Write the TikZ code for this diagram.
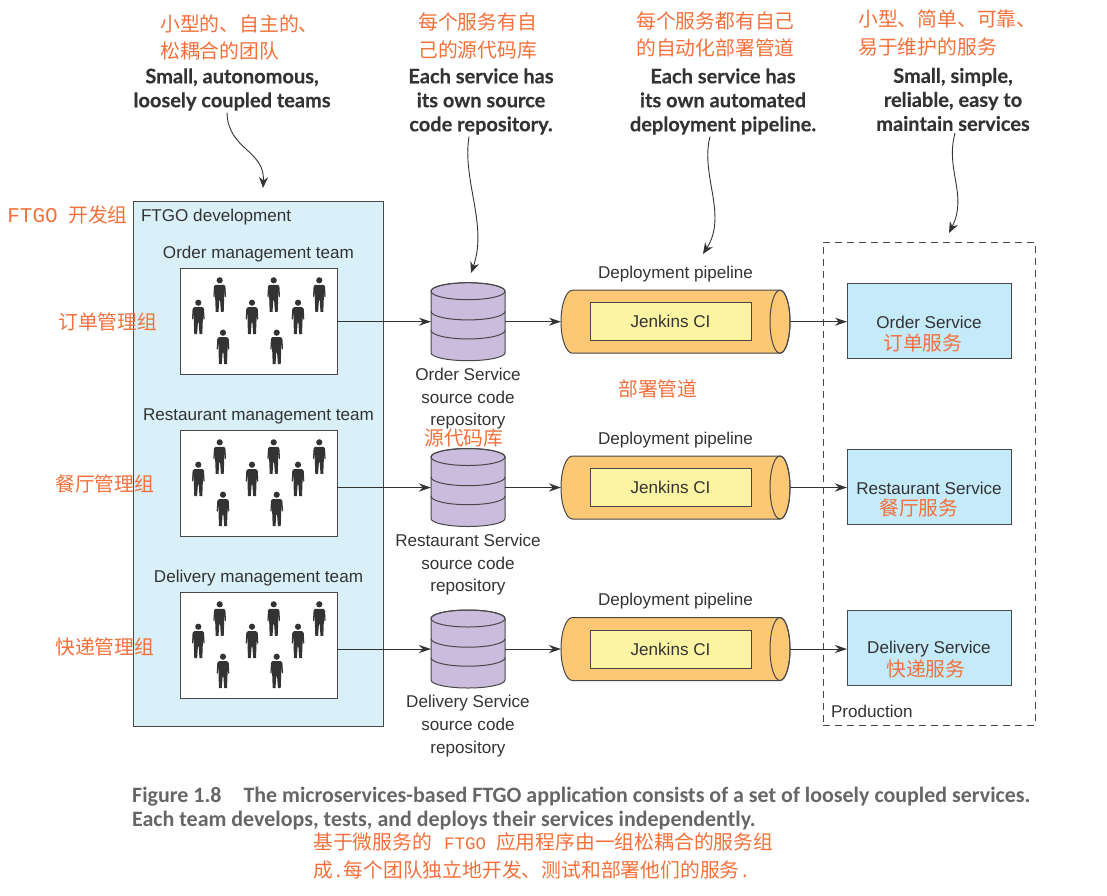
\documentclass[tikz,border=0pt]{standalone}
\usepackage{fontspec}
\setmainfont{Liberation Sans}
\newfontfamily\cjk{Noto Sans CJK SC}
\newfontfamily\zhmono{Liberation Mono}
\newfontfamily\notefont{Lato}[BoldFeatures={FakeBold=0.35}]
\newfontfamily\capfont{Carlito}
\usetikzlibrary{arrows.meta, positioning}
\definecolor{ink}{HTML}{333333}
\definecolor{edge}{HTML}{484848}
\definecolor{zhorange}{HTML}{F4703A}
\definecolor{devblue}{HTML}{D9F0F8}
\definecolor{svcblue}{HTML}{C5EAFA}
\definecolor{repopurple}{HTML}{CBBBDC}
\definecolor{pipeorange}{HTML}{FCC875}
\definecolor{ciyellow}{HTML}{FCF4A3}
\tikzstyle{box} = [draw=edge, line width=0.9pt, inner sep=0pt, outer sep=0pt, align=center, text=ink, font=\fontsize{17.1}{23}\selectfont]
\tikzstyle{teambox} = [box, fill=white, minimum width=157pt, minimum height=106pt]
\tikzstyle{servicebox} = [box, fill=svcblue, minimum width=164pt, minimum height=75pt]
\tikzstyle{repo} = [inner sep=0pt, outer sep=0pt, minimum width=74pt, minimum height=78pt]
\tikzstyle{pipe} = [inner sep=0pt, outer sep=0pt, minimum width=229pt, minimum height=63pt]
\tikzstyle{cibox} = [box, fill=ciyellow, minimum width=161pt, minimum height=38pt]
\tikzstyle{label} = [align=center, text=ink, inner sep=0pt, outer sep=0pt, font=\fontsize{17.1}{22.6}\selectfont]
\tikzstyle{note} = [align=center, text=ink, inner sep=0pt, outer sep=2pt, font=\notefont\bfseries\fontsize{20}{24}\selectfont]
\tikzstyle{zh} = [anchor=west, xshift=-0.7pt, text=zhorange, inner sep=0pt, outer sep=0pt, font=\cjk\fontsize{19.8}{24}\selectfont]
\tikzstyle{arrow} = [draw=ink, line width=1pt, -{Stealth[length=12pt,width=8pt]}]
\tikzstyle{curvearrow} = [draw=ink, line width=0.9pt, -{Stealth[length=11pt,width=9pt]}]
\newcommand{\zhlatin}[1]{{\zhmono\fontsize{17.5}{24}\selectfont #1}}
\tikzset{
    person/.pic={
        \fill[ink] (0,0) circle (3.1pt);
        \fill[ink] (-4.2,4.5) -- (4.2,4.5) -- (5.7,6) -- (6.3,16) -- (5.2,17) -- (4.5,9) -- (4.5,18) -- (4,31.5) -- (1.2,31.5) -- (0.4,20) -- (-0.4,20) -- (-1.2,31.5) -- (-4,31.5) -- (-4.5,18) -- (-4.5,9) -- (-5.2,17) -- (-6.3,16) -- (-5.7,6) -- cycle;
    },
    crew/.pic={
        \pic at (18.3,34.7) {person};
        \pic at (39.7,12.3) {person};
        \pic at (72,34.7) {person};
        \pic at (93.7,12.3) {person};
        \pic at (118,34.7) {person};
        \pic at (139.3,12.3) {person};
        \pic at (43,64.7) {person};
        \pic at (96.7,64.7) {person};
    },
    repobody/.pic={
        \draw[draw=edge, line width=1pt, fill=repopurple] (-37,-30.5) -- (-37,31) arc[start angle=180, end angle=360, x radius=37pt, y radius=8pt] -- (37,-30.5) arc[start angle=0, end angle=180, x radius=37pt, y radius=8.5pt] -- cycle;
        \draw[draw=edge, line width=1pt] (0,-30.5) ellipse[x radius=37pt, y radius=8.5pt];
        \draw[draw=edge, line width=1pt] (-37,-10.3) arc[start angle=180, end angle=360, x radius=37pt, y radius=8.5pt];
        \draw[draw=edge, line width=1pt] (-37,8.7) arc[start angle=180, end angle=360, x radius=37pt, y radius=8.5pt];
    },
    pipebody/.pic={
        \draw[draw=edge, line width=1pt, fill=pipeorange] (-103,-31.5) -- (104.5,-31.5) arc[start angle=90, end angle=-90, x radius=10pt, y radius=31.5pt] -- (-103,31.5) arc[start angle=270, end angle=90, x radius=11.5pt, y radius=31.5pt] -- cycle;
        \draw[draw=edge, line width=1pt] (104.5,0) ellipse[x radius=10pt, y radius=31.5pt];
    }
}

\begin{document}
\begin{tikzpicture}[x=1pt, y=-1pt]
\useasboundingbox (0,0) rectangle (1107,895);

% Groups
\node (dev) [box, fill=devblue, minimum width=250pt, minimum height=525pt] at (258,463.5) {};
\node (prod) [box, dash pattern=on 7pt off 5pt, minimum width=212pt, minimum height=483pt] at (929,483.5) {};
\node (devtitle) [label, anchor=west] at (141,217) {FTGO development};
\node (prodtitle) [label, anchor=west] at (831,711) {Production};

% Teams
\node (team1) [teambox] at (258.5,321) {};
\node (team2) [teambox] at (258.5,483) {};
\node (team3) [teambox] at (258.5,645) {};
\pic at (team1.north west) {crew};
\pic at (team2.north west) {crew};
\pic at (team3.north west) {crew};
\node (team1title) [label, above=6pt of team1] {Order management team};
\node (team2title) [label, above=6pt of team2] {Restaurant management team};
\node (team3title) [label, above=6pt of team3] {Delivery management team};

% Repositories
\node (repo1) [repo] at (468,321.7) {};
\node (repo2) [repo] at (468,487.5) {};
\node (repo3) [repo] at (468,649) {};
\pic at (repo1.center) {repobody};
\pic at (repo2.center) {repobody};
\pic at (repo3.center) {repobody};
\node (repo1label) [label, below=7.5pt of repo1] {Order Service\\source code\\repository};
\node (repo2label) [label, below=7.5pt of repo2] {Restaurant Service\\source code\\repository};
\node (repo3label) [label, below=7.5pt of repo3] {Delivery Service\\source code\\repository};

% Pipelines
\node (pipe1) [pipe] at (675.5,321.7) {};
\node (pipe2) [pipe] at (675.5,487.5) {};
\node (pipe3) [pipe] at (675.5,649) {};
\pic at (pipe1.center) {pipebody};
\pic at (pipe2.center) {pipebody};
\pic at (pipe3.center) {pipebody};
\node (ci1) [cibox, right=29pt of pipe1.west, anchor=west] {Jenkins CI};
\node (ci2) [cibox, right=29pt of pipe2.west, anchor=west] {Jenkins CI};
\node (ci3) [cibox, right=29pt of pipe3.west, anchor=west] {Jenkins CI};
\node (pipe1title) [label, above=8pt of pipe1] {Deployment pipeline};
\node (pipe2title) [label, above=8pt of pipe2] {Deployment pipeline};
\node (pipe3title) [label, above=8pt of pipe3] {Deployment pipeline};

% Services
\node (service1) [servicebox] at (929,320.5) {};
\node (service2) [servicebox] at (929,486.5) {};
\node (service3) [servicebox] at (929,647.5) {};
\node (service1name) [label] at (929,322) {Order Service};
\node (service2name) [label] at (929,488) {Restaurant Service};
\node (service3name) [label] at (929,649) {Delivery Service};

% Notes
\node (note1) [note] at (232,89.5) {Small, autonomous,\\loosely coupled teams};
\node (note2) [note] at (481,101.5) {Each service has\\its own source\\code repository.};
\node (note3) [note] at (723,101.5) {Each service has\\its own automated\\deployment pipeline.};
\node (note4) [note] at (953,99.5) {Small, simple,\\reliable, easy to\\maintain services};
\coordinate (tip1) at (263,188);
\coordinate (tip2) at (471,273);
\coordinate (tip3) at (703,254);
\coordinate (tip4) at (949,233);

% Caption
\node (caption) [anchor=north west, align=left, text=black!60, inner sep=0pt, font=\capfont\bfseries\fontsize{21.95}{24}\selectfont] at (132,787) {Figure 1.8\hspace{22pt}The microservices-based FTGO application consists of a set of loosely coupled services.\\Each team develops, tests, and deploys their services independently.};

% Chinese labels
\node (zh1a) [zh] at (161,24) {小型的、自主的、};
\node (zh1b) [zh] at (161,51) {松耦合的团队};
\node (zh2a) [zh] at (419,22) {每个服务有自};
\node (zh2b) [zh] at (419,50) {己的源代码库};
\node (zh3a) [zh] at (637,21) {每个服务都有自己};
\node (zh3b) [zh] at (637,48) {的自动化部署管道};
\node (zh4a) [zh] at (859,19) {小型、简单、可靠、};
\node (zh4b) [zh] at (859,47) {易于维护的服务};
\node (zhdev) [zh] at (8,215) {{\zhmono\fontsize{21}{24}\selectfont FTGO}\hspace{10.5pt}开发组};
\node (zhteam1) [zh] at (59,322) {订单管理组};
\node (zhteam2) [zh] at (56,484) {餐厅管理组};
\node (zhteam3) [zh] at (56,647) {快递管理组};
\node (zhrepo) [zh] at (425,438) {源代码库};
\node (zhpipe) [zh] at (619,389) {部署管道};
\node (zhservice1) [zh] at (884,343) {订单服务};
\node (zhservice2) [zh] at (880,508) {餐厅服务};
\node (zhservice3) [zh] at (887,669) {快递服务};
\node (zhcap1) [zh] at (314,842) {基于微服务的\hspace{12pt}\zhlatin{FTGO}\hspace{10pt}应用程序由一组松耦合的服务组};
\node (zhcap2) [zh] at (314,870) {成\zhlatin{.}每个团队独立地开发、测试和部署他们的服务\zhlatin{.}};

% Arrows
\draw [arrow] (team1.east |- repo1.west) -- (repo1.west);
\draw [arrow] (team2.east |- repo2.west) -- (repo2.west);
\draw [arrow] (team3.east |- repo3.west) -- (repo3.west);
\draw [arrow] (repo1.east) -- (pipe1.west);
\draw [arrow] (repo2.east) -- (pipe2.west);
\draw [arrow] (repo3.east) -- (pipe3.west);
\draw [arrow] (pipe1.east) -- (service1.west |- pipe1.east);
\draw [arrow] (pipe2.east) -- (service2.west |- pipe2.east);
\draw [arrow] (pipe3.east) -- (service3.west |- pipe3.east);
\draw [curvearrow] ([xshift=-5pt]note1.south) .. controls (228,150) and (265,150) .. (tip1);
\draw [curvearrow] ([xshift=-12pt]note2.south) .. controls (462,180) and (488,225) .. (tip2);
\draw [curvearrow] ([xshift=-13pt]note3.south) .. controls (700,175) and (728,215) .. (tip3);
\draw [curvearrow] ([xshift=2pt]note4.south) .. controls (945,170) and (968,195) .. (tip4);

\end{tikzpicture}
\end{document}
